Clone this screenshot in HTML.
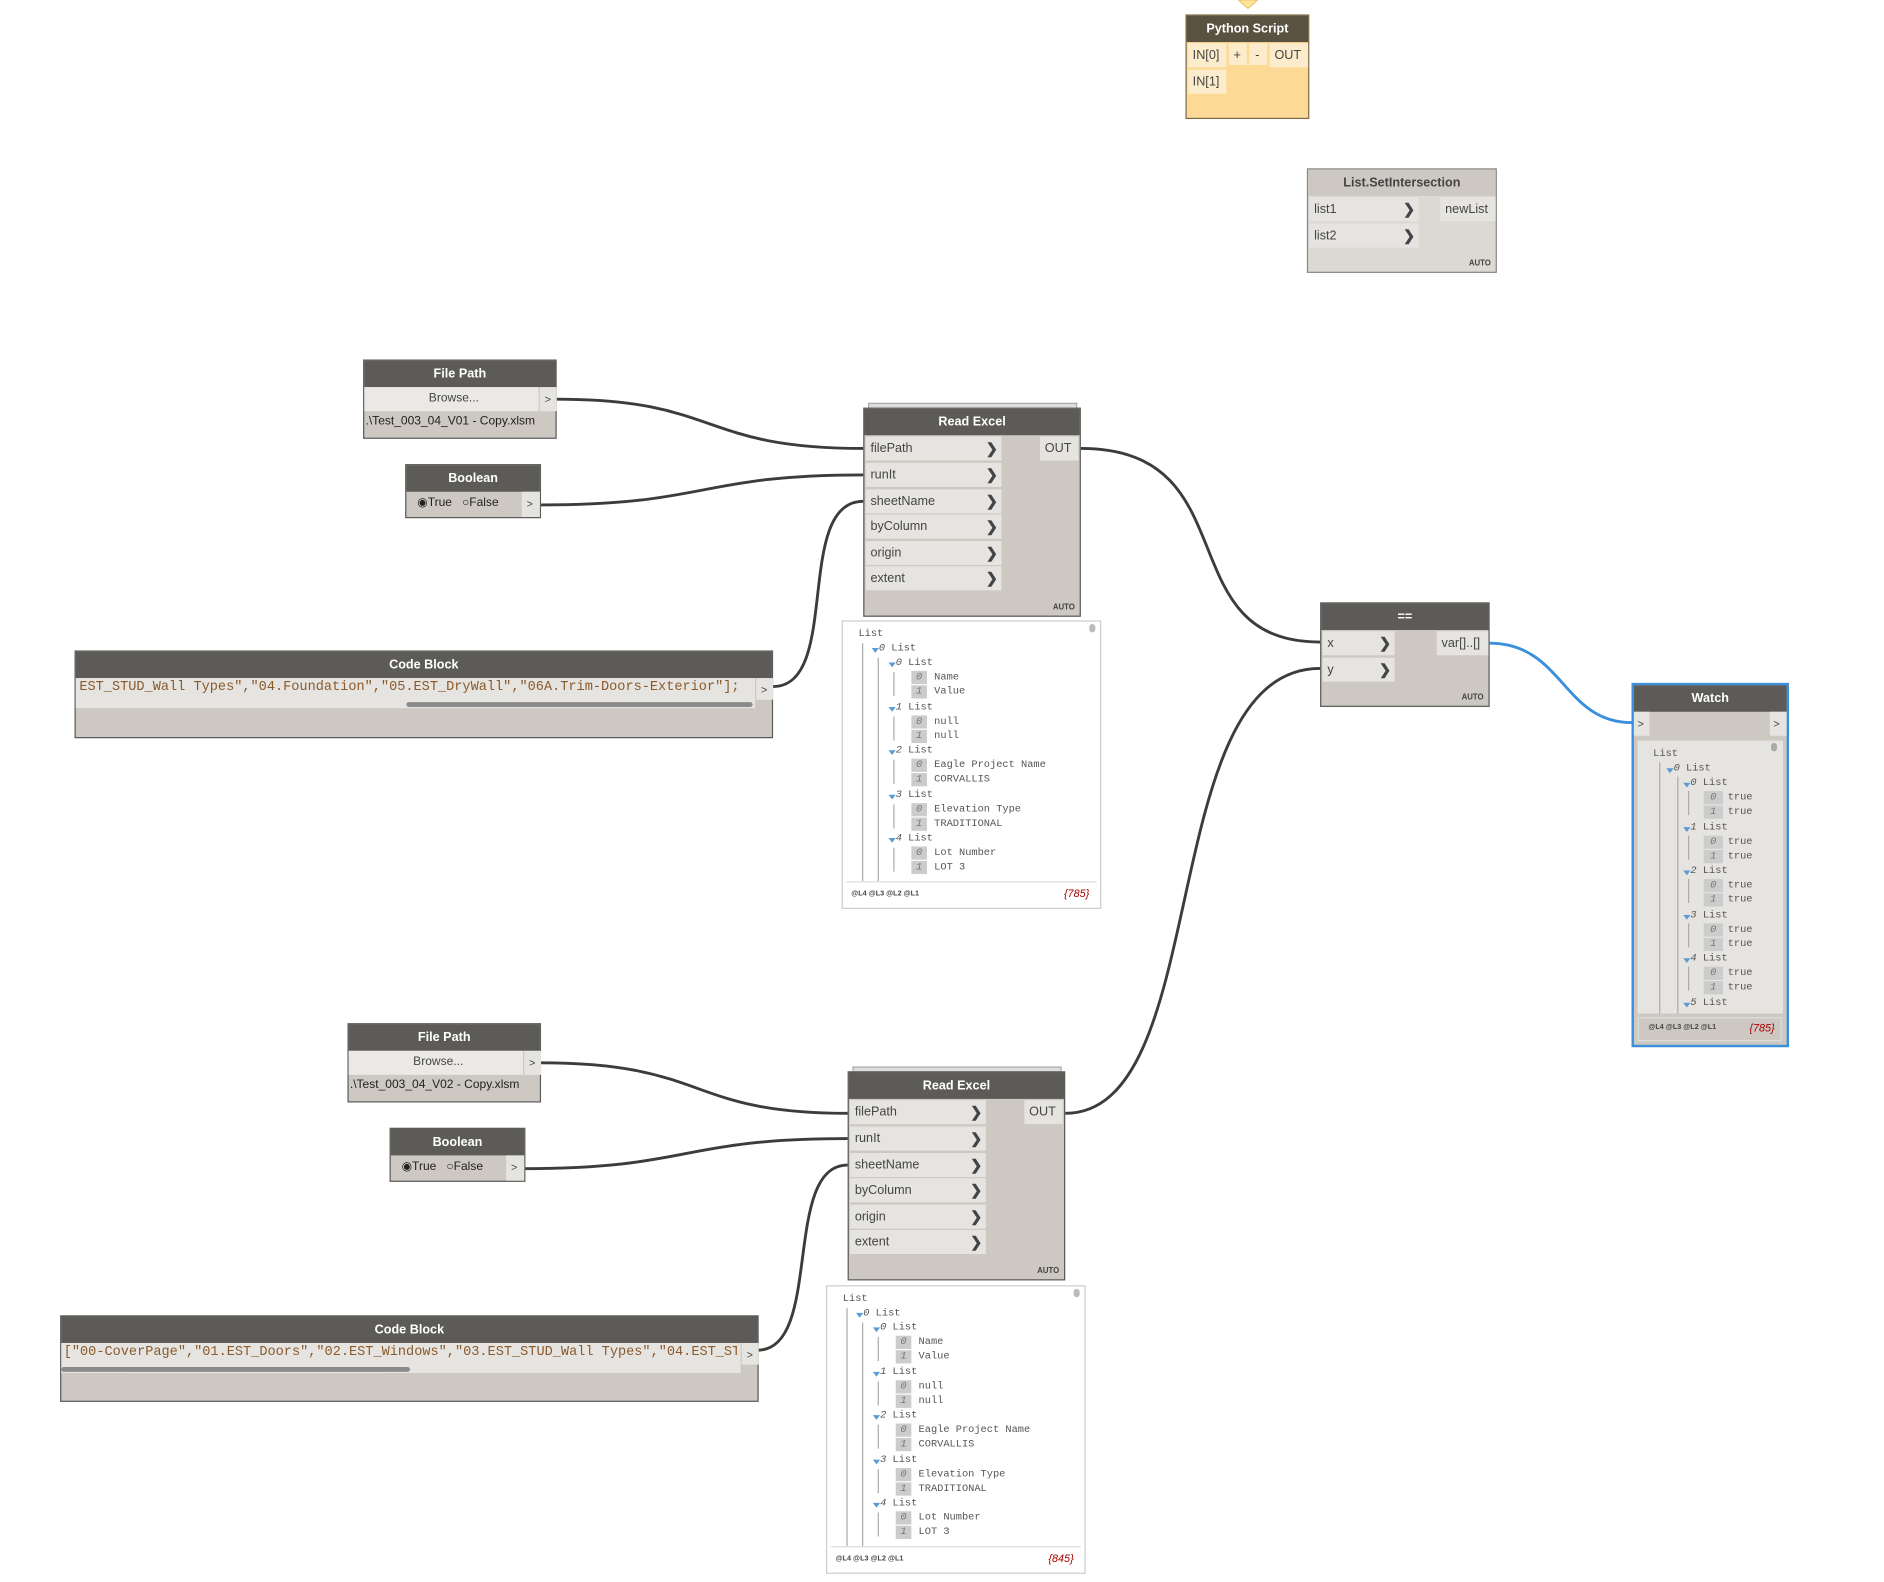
<!DOCTYPE html>
<html><head><meta charset="utf-8">
<style>
html,body{margin:0;padding:0;background:#fff;width:1884px;height:1582px;overflow:hidden}
#c{position:absolute;left:0;top:0;width:1567px;height:1316px;transform:scale(1.2023);transform-origin:0 0;font-family:"Liberation Sans",sans-serif}
.n{position:absolute;background:#cdc9c2;border:1px solid #5a5a5a;box-sizing:border-box}
.ti{position:absolute;left:0;right:0;top:0;height:22px;background:#5c5b58;color:#fff;font-size:10.5px;font-weight:bold;text-align:center;line-height:22px}
.p{position:absolute;background:#e6e4e0;font-size:10.5px;color:#444;line-height:20px;padding-left:4px;box-sizing:border-box}
.p b{position:absolute;right:3px;top:0;font-size:12px;color:#444}
.auto{position:absolute;right:4px;bottom:3px;font-size:6.5px;font-weight:bold;color:#444}
.w{position:absolute;background:#fff;border:1px solid #ccc;box-sizing:border-box;font-family:"Liberation Mono",monospace;font-size:8.6px;color:#555}
.w div{position:absolute;white-space:nowrap;line-height:11px}
.w .bx{background:#ccc;color:#777;font-style:italic;width:13px;text-align:center}
.w .tr{width:0;height:0;border-left:3px solid transparent;border-right:3px solid transparent;border-top:4px solid #5b9bd5}
.w .vl{width:0;border-left:1px solid #aaa}
.w .ft{font-family:"Liberation Sans",sans-serif;font-size:6px;font-weight:bold;color:#444}
.w .ct{font-family:"Liberation Sans",sans-serif;font-size:9px;font-style:italic;color:#a00}
.code{position:absolute;font-family:"Liberation Mono",monospace;font-size:11.3px;color:#8a5a2c;white-space:nowrap;overflow:hidden;line-height:17px}
</style></head><body><div id="c">

<svg width="1567" height="1316" style="position:absolute;left:0;top:0" fill="none">
<g stroke="#3c3c3c" stroke-width="2.4">
<path d="M463,332 C600,332 580,373 718,373"/>
<path d="M450,420 C590,420 580,395 718,395"/>
<path d="M643,571 C700,571 660,417 718,417"/>
<path d="M899,373 C1040,373 970,534 1098,534"/>
<path d="M450,884 C590,884 570,926 705,926"/>
<path d="M437,972 C575,972 565,947 705,947"/>
<path d="M630,1123 C685,1123 650,969 705,969"/>
<path d="M886,926 C1010,926 960,556 1098,556"/>
</g>
<path d="M1239,535 C1300,535 1300,601 1357,601" stroke="#3c8fdc" stroke-width="2.4"/>
<polygon points="1030,0 1046,0 1038,7" fill="#fce49a" stroke="#e8c870"/>
</svg>

<!-- Python Script -->
<div class="n" style="left:986px;top:12px;width:103px;height:87px;background:#fcd995;border-color:#7a6a4a">
<div class="ti" style="background:#5a5240">Python Script</div>
<div class="p" style="left:1px;top:23px;width:32px;height:20px;background:#fdeccc">IN[0]</div>
<div class="p" style="left:35px;top:23px;width:15px;height:18px;background:#fdeccc;padding-left:4px">+</div>
<div class="p" style="left:52px;top:23px;width:15px;height:18px;background:#fdeccc;padding-left:5px">-</div>
<div class="p" style="left:69px;top:23px;width:32px;height:20px;background:#fdeccc">OUT</div>
<div class="p" style="left:1px;top:45px;width:32px;height:20px;background:#fdeccc">IN[1]</div>
</div>

<!-- List.SetIntersection -->
<div class="n" style="left:1087px;top:140px;width:158px;height:87px;background:#dcd9d3;border-color:#888">
<div class="ti" style="background:#cdc9c2;color:#444">List.SetIntersection</div>
<div class="p" style="left:1px;top:23px;width:91px;height:20px">list1<b>❯</b></div>
<div class="p" style="left:1px;top:45px;width:91px;height:20px">list2<b>❯</b></div>
<div class="p" style="left:110px;top:23px;width:46px;height:20px">newList</div>
<div class="auto">AUTO</div>
</div>

<!-- File Path 1 -->
<div class="n" style="left:302px;top:299px;width:161px;height:66px">
<div class="ti">File Path</div>
<div class="p" style="left:0;top:22px;width:145px;height:20px;background:#ebe9e5;text-align:center;font-size:10px">Browse...</div>
<div class="p" style="left:146px;top:22px;width:14px;height:20px;font-size:9px">&gt;</div>
<div style="position:absolute;left:1px;top:45px;font-size:10px;color:#222">.\Test_003_04_V01 - Copy.xlsm</div>
</div>
<!-- Boolean 1 -->
<div class="n" style="left:337px;top:386px;width:113px;height:45px">
<div class="ti">Boolean</div>
<div style="position:absolute;left:9px;top:26px;font-size:10px;color:#222">◉True &nbsp; ○False</div>
<div class="p" style="left:96px;top:22px;width:15px;height:21px;font-size:9px">&gt;</div>
</div>
<!-- Read Excel 1 -->
<div style="position:absolute;left:722px;top:335px;width:172px;height:4px;border:1px solid #aaa;border-bottom:none;background:#ddd"></div>
<div class="n" style="left:718px;top:339px;width:181px;height:174px">
<div class="ti">Read Excel</div>
<div class="p" style="left:1px;top:23px;width:113px;height:20px">filePath<b>❯</b></div>
<div class="p" style="left:1px;top:45px;width:113px;height:20px">runIt<b>❯</b></div>
<div class="p" style="left:1px;top:67px;width:113px;height:20px">sheetName<b>❯</b></div>
<div class="p" style="left:1px;top:88px;width:113px;height:20px">byColumn<b>❯</b></div>
<div class="p" style="left:1px;top:110px;width:113px;height:20px">origin<b>❯</b></div>
<div class="p" style="left:1px;top:131px;width:113px;height:20px">extent<b>❯</b></div>
<div class="p" style="left:146px;top:23px;width:32px;height:20px">OUT</div>
<div class="auto">AUTO</div>
</div>
<!-- Watch panel 1 -->
<div class="w" style="left:700px;top:516px;width:216px;height:240px">
<div style="left:205px;top:2px;width:5px;height:7px;background:#bbb;border-radius:3px"></div>
<div class="vl" style="left:16px;top:18px;height:198px"></div>
<div class="vl" style="left:29px;top:30px;height:186px"></div>
<div class="vl" style="left:42px;top:42px;height:20px"></div>
<div class="vl" style="left:42px;top:79px;height:20px"></div>
<div class="vl" style="left:42px;top:115px;height:20px"></div>
<div class="vl" style="left:42px;top:152px;height:20px"></div>
<div class="vl" style="left:42px;top:188px;height:20px"></div>
<div style="left:13px;top:5px">List</div>
<div class="tr" style="left:24px;top:22px"></div><div style="left:30px;top:17px"><i>0</i> List</div>
<div class="tr" style="left:38px;top:34px"></div><div style="left:44px;top:29px"><i>0</i> List</div>
<div class="bx" style="left:57px;top:41px">0</div><div style="left:76px;top:41px">Name</div>
<div class="bx" style="left:57px;top:53px">1</div><div style="left:76px;top:53px">Value</div>
<div class="tr" style="left:38px;top:71px"></div><div style="left:44px;top:66px"><i>1</i> List</div>
<div class="bx" style="left:57px;top:78px">0</div><div style="left:76px;top:78px">null</div>
<div class="bx" style="left:57px;top:90px">1</div><div style="left:76px;top:90px">null</div>
<div class="tr" style="left:38px;top:107px"></div><div style="left:44px;top:102px"><i>2</i> List</div>
<div class="bx" style="left:57px;top:114px">0</div><div style="left:76px;top:114px">Eagle Project Name</div>
<div class="bx" style="left:57px;top:126px">1</div><div style="left:76px;top:126px">CORVALLIS</div>
<div class="tr" style="left:38px;top:144px"></div><div style="left:44px;top:139px"><i>3</i> List</div>
<div class="bx" style="left:57px;top:151px">0</div><div style="left:76px;top:151px">Elevation Type</div>
<div class="bx" style="left:57px;top:163px">1</div><div style="left:76px;top:163px">TRADITIONAL</div>
<div class="tr" style="left:38px;top:180px"></div><div style="left:44px;top:175px"><i>4</i> List</div>
<div class="bx" style="left:57px;top:187px">0</div><div style="left:76px;top:187px">Lot Number</div>
<div class="bx" style="left:57px;top:199px">1</div><div style="left:76px;top:199px">LOT 3</div>
<div style="left:3px;top:216px;width:208px;height:0;border-top:1px solid #ddd"></div>
<div class="ft" style="left:7px;top:222px">@L4 @L3 @L2 @L1</div>
<div class="ct" style="left:184px;top:221px">{785}</div>
</div>
<!-- Code Block 1 -->
<div class="n" style="left:62px;top:541px;width:581px;height:73px">
<div class="ti">Code Block</div>
<div style="position:absolute;left:0;top:22px;width:565px;height:25px;background:#e6e4e0"></div>
<div class="code" style="left:3px;top:22px;width:560px;direction:rtl;text-align:left"><span style="direction:ltr;unicode-bidi:bidi-override">EST_STUD_Wall Types","04.Foundation","05.EST_DryWall","06A.Trim-Doors-Exterior"];</span></div>
<div style="position:absolute;left:275px;top:42px;width:288px;height:4px;background:#8a8a8a;border-radius:2px"></div>
<div class="p" style="left:566px;top:22px;width:14px;height:18px;font-size:9px">&gt;</div>
</div>

<!-- == -->
<div class="n" style="left:1098px;top:501px;width:141px;height:87px">
<div class="ti">==</div>
<div class="p" style="left:1px;top:23px;width:60px;height:20px">x<b>❯</b></div>
<div class="p" style="left:1px;top:45px;width:60px;height:20px">y<b>❯</b></div>
<div class="p" style="left:96px;top:23px;width:43px;height:20px">var[]..[]</div>
<div class="auto">AUTO</div>
</div>

<!-- Watch -->
<div class="n" style="left:1357px;top:568px;width:131px;height:303px;border:2px solid #3c8fdc">
<div class="ti" style="top:0">Watch</div>
<div class="p" style="left:0;top:22px;width:13px;height:20px;font-size:9px;padding-left:3px">&gt;</div>
<div class="p" style="left:113px;top:22px;width:14px;height:20px;font-size:9px;padding-left:3px">&gt;</div>
<div class="w" style="left:3px;top:46px;width:121px;height:227px;background:#e6e4e0;border:none">
<div style="left:111px;top:2px;width:5px;height:7px;background:#aaa;border-radius:3px"></div>
<div class="vl" style="left:18px;top:18px;height:209px"></div>
<div class="vl" style="left:33px;top:30px;height:197px"></div>
<div class="vl" style="left:42px;top:42px;height:20px"></div>
<div class="vl" style="left:42px;top:79px;height:20px"></div>
<div class="vl" style="left:42px;top:115px;height:20px"></div>
<div class="vl" style="left:42px;top:152px;height:20px"></div>
<div class="vl" style="left:42px;top:188px;height:20px"></div>
<div style="left:13px;top:6px">List</div>
<div class="tr" style="left:24px;top:23px"></div><div style="left:30px;top:18px"><i>0</i> List</div>
<div class="tr" style="left:38px;top:35px"></div><div style="left:44px;top:30px"><i>0</i> List</div>
<div class="bx" style="left:55px;top:42px;width:16px">0</div><div style="left:75px;top:42px">true</div>
<div class="bx" style="left:55px;top:54px;width:16px">1</div><div style="left:75px;top:54px">true</div>
<div class="tr" style="left:38px;top:72px"></div><div style="left:44px;top:67px"><i>1</i> List</div>
<div class="bx" style="left:55px;top:79px;width:16px">0</div><div style="left:75px;top:79px">true</div>
<div class="bx" style="left:55px;top:91px;width:16px">1</div><div style="left:75px;top:91px">true</div>
<div class="tr" style="left:38px;top:108px"></div><div style="left:44px;top:103px"><i>2</i> List</div>
<div class="bx" style="left:55px;top:115px;width:16px">0</div><div style="left:75px;top:115px">true</div>
<div class="bx" style="left:55px;top:127px;width:16px">1</div><div style="left:75px;top:127px">true</div>
<div class="tr" style="left:38px;top:145px"></div><div style="left:44px;top:140px"><i>3</i> List</div>
<div class="bx" style="left:55px;top:152px;width:16px">0</div><div style="left:75px;top:152px">true</div>
<div class="bx" style="left:55px;top:164px;width:16px">1</div><div style="left:75px;top:164px">true</div>
<div class="tr" style="left:38px;top:181px"></div><div style="left:44px;top:176px"><i>4</i> List</div>
<div class="bx" style="left:55px;top:188px;width:16px">0</div><div style="left:75px;top:188px">true</div>
<div class="bx" style="left:55px;top:200px;width:16px">1</div><div style="left:75px;top:200px">true</div>
<div class="tr" style="left:38px;top:218px"></div><div style="left:44px;top:213px"><i>5</i> List</div>
</div>
<div style="position:absolute;left:3px;top:276px;width:120px;height:20px;border:1px solid #ddd;box-sizing:border-box"></div>
<div style="position:absolute;left:12px;top:282px;font-size:6px;font-weight:bold;color:#444">@L4 @L3 @L2 @L1</div>
<div style="position:absolute;left:96px;top:280px;font-size:9px;font-style:italic;color:#a00">{785}</div>
</div>

<!-- File Path 2 -->
<div class="n" style="left:289px;top:851px;width:161px;height:66px">
<div class="ti">File Path</div>
<div class="p" style="left:0;top:22px;width:145px;height:20px;background:#ebe9e5;text-align:center;font-size:10px">Browse...</div>
<div class="p" style="left:146px;top:22px;width:14px;height:20px;font-size:9px">&gt;</div>
<div style="position:absolute;left:1px;top:45px;font-size:10px;color:#222">.\Test_003_04_V02 - Copy.xlsm</div>
</div>
<!-- Boolean 2 -->
<div class="n" style="left:324px;top:938px;width:113px;height:45px">
<div class="ti">Boolean</div>
<div style="position:absolute;left:9px;top:26px;font-size:10px;color:#222">◉True &nbsp; ○False</div>
<div class="p" style="left:96px;top:22px;width:15px;height:21px;font-size:9px">&gt;</div>
</div>
<!-- Read Excel 2 -->
<div style="position:absolute;left:709px;top:887px;width:172px;height:4px;border:1px solid #aaa;border-bottom:none;background:#ddd"></div>
<div class="n" style="left:705px;top:891px;width:181px;height:174px">
<div class="ti">Read Excel</div>
<div class="p" style="left:1px;top:23px;width:113px;height:20px">filePath<b>❯</b></div>
<div class="p" style="left:1px;top:45px;width:113px;height:20px">runIt<b>❯</b></div>
<div class="p" style="left:1px;top:67px;width:113px;height:20px">sheetName<b>❯</b></div>
<div class="p" style="left:1px;top:88px;width:113px;height:20px">byColumn<b>❯</b></div>
<div class="p" style="left:1px;top:110px;width:113px;height:20px">origin<b>❯</b></div>
<div class="p" style="left:1px;top:131px;width:113px;height:20px">extent<b>❯</b></div>
<div class="p" style="left:146px;top:23px;width:32px;height:20px">OUT</div>
<div class="auto">AUTO</div>
</div>
<!-- Watch panel 2 -->
<div class="w" style="left:687px;top:1069px;width:216px;height:240px">
<div style="left:205px;top:2px;width:5px;height:7px;background:#bbb;border-radius:3px"></div>
<div class="vl" style="left:16px;top:18px;height:198px"></div>
<div class="vl" style="left:29px;top:30px;height:186px"></div>
<div class="vl" style="left:42px;top:42px;height:20px"></div>
<div class="vl" style="left:42px;top:79px;height:20px"></div>
<div class="vl" style="left:42px;top:115px;height:20px"></div>
<div class="vl" style="left:42px;top:152px;height:20px"></div>
<div class="vl" style="left:42px;top:188px;height:20px"></div>
<div style="left:13px;top:5px">List</div>
<div class="tr" style="left:24px;top:22px"></div><div style="left:30px;top:17px"><i>0</i> List</div>
<div class="tr" style="left:38px;top:34px"></div><div style="left:44px;top:29px"><i>0</i> List</div>
<div class="bx" style="left:57px;top:41px">0</div><div style="left:76px;top:41px">Name</div>
<div class="bx" style="left:57px;top:53px">1</div><div style="left:76px;top:53px">Value</div>
<div class="tr" style="left:38px;top:71px"></div><div style="left:44px;top:66px"><i>1</i> List</div>
<div class="bx" style="left:57px;top:78px">0</div><div style="left:76px;top:78px">null</div>
<div class="bx" style="left:57px;top:90px">1</div><div style="left:76px;top:90px">null</div>
<div class="tr" style="left:38px;top:107px"></div><div style="left:44px;top:102px"><i>2</i> List</div>
<div class="bx" style="left:57px;top:114px">0</div><div style="left:76px;top:114px">Eagle Project Name</div>
<div class="bx" style="left:57px;top:126px">1</div><div style="left:76px;top:126px">CORVALLIS</div>
<div class="tr" style="left:38px;top:144px"></div><div style="left:44px;top:139px"><i>3</i> List</div>
<div class="bx" style="left:57px;top:151px">0</div><div style="left:76px;top:151px">Elevation Type</div>
<div class="bx" style="left:57px;top:163px">1</div><div style="left:76px;top:163px">TRADITIONAL</div>
<div class="tr" style="left:38px;top:180px"></div><div style="left:44px;top:175px"><i>4</i> List</div>
<div class="bx" style="left:57px;top:187px">0</div><div style="left:76px;top:187px">Lot Number</div>
<div class="bx" style="left:57px;top:199px">1</div><div style="left:76px;top:199px">LOT 3</div>
<div style="left:3px;top:216px;width:208px;height:0;border-top:1px solid #ddd"></div>
<div class="ft" style="left:7px;top:222px">@L4 @L3 @L2 @L1</div>
<div class="ct" style="left:184px;top:221px">{845}</div>
</div>
<!-- Code Block 2 -->
<div class="n" style="left:50px;top:1094px;width:581px;height:72px">
<div class="ti">Code Block</div>
<div style="position:absolute;left:0;top:22px;width:565px;height:25px;background:#e6e4e0"></div>
<div class="code" style="left:2px;top:22px;width:560px">["00-CoverPage","01.EST_Doors","02.EST_Windows","03.EST_STUD_Wall Types","04.EST_STUD_Wall</div>
<div style="position:absolute;left:0;top:42px;width:290px;height:4px;background:#8a8a8a;border-radius:2px"></div>
<div class="p" style="left:566px;top:22px;width:14px;height:18px;font-size:9px">&gt;</div>
</div>

</div></body></html>
